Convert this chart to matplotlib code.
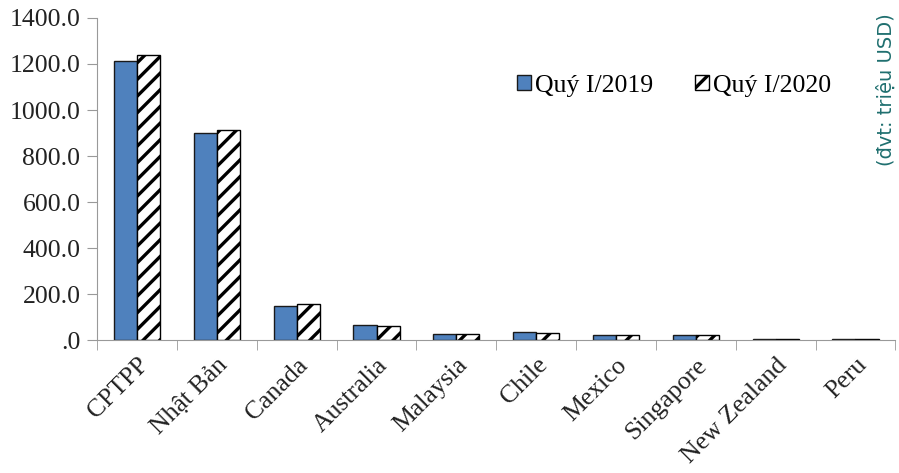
import matplotlib.pyplot as plt
import numpy as np

plt.rcParams['hatch.linewidth'] = 2.4

countries = ["CPTPP", "Nhật Bản", "Canada", "Australia", "Malaysia",
             "Chile", "Mexico", "Singapore", "New Zealand", "Peru"]
q1_2019 = [1213, 900, 148, 64, 28, 35, 24, 23, 6, 3]
q1_2020 = [1240, 913, 157, 63, 28, 30, 23, 20, 6, 3]

serif = "Liberation Serif"
fig = plt.figure(figsize=(8.99, 4.73), dpi=100)
ax = fig.add_axes([0.108, 0.281, 0.888, 0.681])

x = np.arange(len(countries))
w = 0.29
ax.bar(x - w / 2, q1_2019, w, color="#4f81bd", edgecolor="#1a1a1a",
       linewidth=1, label="Quý I/2019")
ax.bar(x + w / 2, q1_2020, w, color="white", edgecolor="black",
       hatch="//", linewidth=1, label="Quý I/2020")

ax.set_xlim(-0.5, len(countries) - 0.5)
ax.set_ylim(0, 1400)
ax.set_yticks(np.arange(0, 1401, 200))
ax.set_yticklabels([".0"] + [f"{v:.1f}" for v in np.arange(200, 1401, 200)],
                   fontfamily=serif, fontsize=18.5, color="#222222")
ax.set_xticks(x)
ax.set_xticklabels(countries, rotation=45, ha="right", rotation_mode="anchor",
                   fontfamily=serif, fontsize=18.5, color="#222222")
ax.set_xticks(np.arange(-0.5, len(countries)), minor=True)
ax.tick_params(axis="x", which="major", length=0, pad=10)
ax.tick_params(axis="x", which="minor", length=7, color="#999999")
ax.tick_params(axis="y", length=7, color="#999999", direction="out", pad=5)

for s in ["top", "right"]:
    ax.spines[s].set_visible(False)
for s in ["left", "bottom"]:
    ax.spines[s].set_color("#999999")

ax.legend(loc="center right", bbox_to_anchor=(0.935, 0.79), ncol=2, frameon=False,
          prop={"family": serif, "size": 18.5}, handlelength=0.55, handleheight=0.55,
          handletextpad=0.15, columnspacing=1.6, borderpad=0)

fig.text(0.986, 0.81, "(đvt: triệu USD)", rotation=90, color="#1f6f6f",
         fontsize=14, ha="center", va="center", fontfamily="DejaVu Sans")

fig.savefig("out.png", dpi=100)
